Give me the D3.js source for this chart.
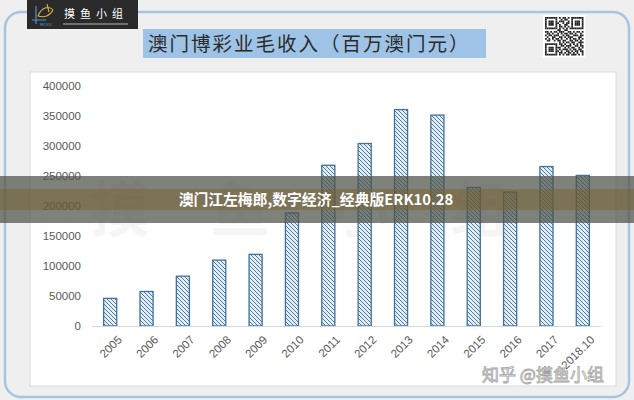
<!DOCTYPE html>
<html><head><meta charset="utf-8">
<script src="https://cdn.jsdelivr.net/npm/d3@7"></script>
<style>html,body{margin:0;padding:0;background:#efefef;}svg{display:block;}</style>
</head><body>
<script>
const categories = ["2005","2006","2007","2008","2009","2010","2011","2012","2013","2014","2015","2016","2017","2018.10"];
const revenue = [46047,57521,83022,109826,119369,188343,267867,304139,360749,351521,230840,223210,265743,251000];
const yTicks = [0,50000,100000,150000,200000,250000,300000,350000,400000];
const title = "澳门博彩业毛收入（百万澳门元）";
const banner = "澳门江左梅郎,数字经济_经典版ERK10.28";
const qrPattern = [
"1111111010110101111111",
"1000001001011001000001",
"1011101011100101011101",
"1011101100101101011101",
"1011101010011001011101",
"1000001011010101000001",
"1111111010101011111111",
"0000000110011000000000",
"1101011011100110101101",
"0110100101011011010010",
"1011011100101100111011",
"0100110011010111000110",
"1010101101001010110101",
"0110010110110011011010",
"0000000010101101100111",
"1111111011010010101010",
"1000001001101110011011",
"1011101110010101100101",
"1011101010111010110110",
"1011101101001101011011",
"1000001011010110101001",
"1111111010101101110101"];

const W = 634, H = 400;
const svg = d3.select("body").append("svg").attr("width", W).attr("height", H);
const defs = svg.append("defs");
const pat = defs.append("pattern").attr("id","hatch").attr("patternUnits","userSpaceOnUse")
  .attr("width",4).attr("height",4);
pat.append("rect").attr("width",4).attr("height",4).attr("fill","#e3eef8");
pat.append("path").attr("d","M-1,-1 L5,5 M-1,3 L1,5 M3,-1 L5,1").attr("stroke","#4a7aa3").attr("stroke-width",1);

// outer frame
svg.append("rect").attr("x",5).attr("y",12).attr("width",624).attr("height",385)
  .attr("rx",16).attr("fill","#efefef").attr("stroke","#a9c4df").attr("stroke-width",2.5);

// plot panel
svg.append("rect").attr("x",30).attr("y",72).attr("width",586).attr("height",314)
  .attr("fill","#ffffff").attr("stroke","#dcdcdc").attr("stroke-width",1);

// faint background watermark
svg.append("text").attr("x",330).attr("y",232).attr("text-anchor","middle")
  .attr("font-family","Noto Sans CJK SC").attr("font-size",60).attr("font-weight","bold")
  .attr("fill","#000").attr("opacity",0.035).attr("letter-spacing",60).text("摸鱼小组");

// title box
svg.append("rect").attr("x",143).attr("y",29).attr("width",343).attr("height",29).attr("fill","#9ec3e6");
svg.append("text").attr("x",148).attr("y",51).attr("font-family","Noto Sans CJK SC")
  .attr("font-size",19.5).attr("fill","#2a2a2a").attr("letter-spacing",2).text(title);

// logo
const lg = svg.append("g");
lg.append("rect").attr("x",27).attr("y",0).attr("width",111).attr("height",29).attr("fill","#2a2a2a");
lg.append("path").attr("d","M36,6 L36,24 M32,20 L46,20").attr("stroke","#5b8fc9").attr("stroke-width",1.2).attr("fill","none");
lg.append("path").attr("d","M38,16 C42,6 50,6 53,10 C50,16 44,18 38,16 Z M47,4 L49,12").attr("stroke","#d8b04a").attr("stroke-width",1.1).attr("fill","none");
lg.append("text").attr("x",40).attr("y",26).attr("font-family","DejaVu Sans").attr("font-size",4).attr("fill","#5b8fc9").text("MOYU");
lg.append("text").attr("x",64).attr("y",18).attr("font-family","Noto Sans CJK SC").attr("font-size",11)
  .attr("fill","#fff").attr("letter-spacing",5).text("摸鱼小组");
lg.append("line").attr("x1",63).attr("x2",128).attr("y1",24).attr("y2",24).attr("stroke","#ddd").attr("stroke-width",0.8);

// QR
const qrX = 545, qrY = 17, cell = 1.75;
const qr = svg.append("g").attr("transform",`translate(${qrX},${qrY})`);
qr.append("rect").attr("x",-2).attr("y",-2).attr("width",qrPattern.length*cell+4).attr("height",qrPattern.length*cell+4).attr("fill","#fff");
qrPattern.forEach((row,r)=>row.split("").forEach((c,i)=>{ if(c==="1") qr.append("rect").attr("x",i*cell).attr("y",r*cell).attr("width",cell).attr("height",cell).attr("fill","#222");}));

// chart
const m = {left:92, right:601, top:86, bottom:326};
const x = d3.scaleBand().domain(categories).range([m.left, m.right]).paddingInner(0.64).paddingOuter(0.32);
const y = d3.scaleLinear().domain([0,400000]).range([m.bottom, m.top]);

const yAxis = svg.append("g").attr("transform",`translate(${m.left},0)`)
  .call(d3.axisLeft(y).tickValues(yTicks).tickSize(0).tickPadding(11).tickFormat(d3.format("d")));
yAxis.select(".domain").remove();
yAxis.selectAll("text").attr("font-family","Liberation Sans, Arial").attr("font-size",11.5).attr("fill","#595959");

svg.selectAll(".bar").data(revenue).enter().append("rect")
  .attr("x",(d,i)=>x(categories[i])).attr("width",x.bandwidth())
  .attr("y",d=>y(d)).attr("height",d=>m.bottom-y(d))
  .attr("fill","url(#hatch)").attr("stroke","#41719c").attr("stroke-width",1.3);

const xAxis = svg.append("g").attr("transform",`translate(0,${m.bottom})`)
  .call(d3.axisBottom(x).tickSize(0).tickPadding(8));
xAxis.select(".domain").attr("stroke","#d9d9d9").attr("stroke-width",1.2)
  .attr("d",`M${m.left},0.5H${m.right}`);
xAxis.selectAll("text").attr("font-family","Liberation Sans, Arial").attr("font-size",11.5).attr("fill","#595959")
  .attr("text-anchor","end").attr("dy","0.35em")
  .attr("transform","translate(4,6) rotate(-45)");

// banner
svg.append("rect").attr("x",0).attr("y",176).attr("width",W).attr("height",47).attr("fill","#4d5247").attr("opacity",0.72);
svg.append("rect").attr("x",0).attr("y",189).attr("width",W).attr("height",21).attr("fill","#7a5f2a").attr("opacity",0.45);
svg.append("text").attr("x",316).attr("y",205).attr("text-anchor","middle")
  .attr("font-family","Noto Sans CJK SC").attr("font-weight","bold").attr("font-size",14.8)
  .attr("fill","#ffffff").text(banner);

// bottom watermark
svg.append("text").attr("x",482).attr("y",381).attr("font-family","Noto Sans CJK SC")
  .attr("font-size",17).attr("fill","#ffffff").attr("stroke","#9a9a9a").attr("stroke-width",0.8)
  .attr("opacity",0.9).text("知乎 @摸鱼小组");
</script>
</body></html>
